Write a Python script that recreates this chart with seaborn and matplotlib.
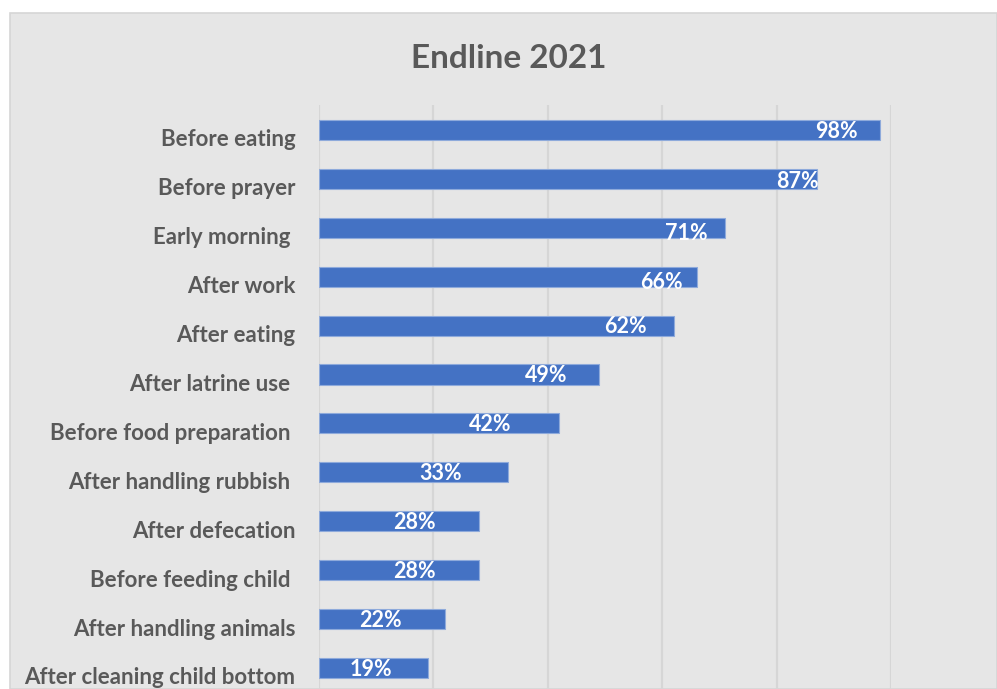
import matplotlib
matplotlib.use("Agg")
import matplotlib.pyplot as plt
import matplotlib.transforms as mtransforms
import seaborn as sns
import pandas as pd
from matplotlib.patches import Rectangle

categories = [
    "Before eating", "Before prayer", "Early morning ", "After work",
    "After eating", "After latrine use ", "Before food preparation ",
    "After handling rubbish ", "After defecation", "Before feeding child ",
    "After handling animals", "After cleaning child bottom",
]
values = [98, 87, 71, 66, 62, 49, 42, 33, 28, 28, 22, 19]
value_labels = ["98%", "87%", "71%", "66%", "62%", "49%", "42%", "33%", "28%", "28%", "22%", "19%"]

# label placement (styling): horizontal center in data units, vertical offset in points
label_x = [90.5, 83.7, 64.3, 59.9, 53.5, 39.7, 29.9, 21.3, 16.6, 16.6, 10.8, 9.1]
label_dy = [-1, -2, -4, -4, -1, -1, -1, -1, -1, -1, -1, -1]

sns.set_theme(style="white")
plt.rcParams['font.family'] = ['Lato', 'DejaVu Sans']

fig = plt.figure(figsize=(9.97, 6.89), dpi=100)
fig.patch.set_facecolor("white")
W, H = 997, 689
fig.add_artist(Rectangle((10 / W, 0), (W - 10) / W, (H - 13) / H, transform=fig.transFigure,
                         facecolor="#e6e6e6", edgecolor="#d6d6d6", lw=1.2, zorder=0))

ax = fig.add_axes([319 / W, 0, (891 - 319) / W, (H - 105) / H])
ax.set_facecolor("none")

df = pd.DataFrame({"cat": categories, "val": values})
sns.barplot(data=df, x="val", y="cat", orient="h", color="#4472C4", width=0.41,
            edgecolor="#8eaadb", linewidth=0.8, saturation=1, ax=ax, zorder=3)

ax.set_xlim(0, 100)
ax.set_ylim(11.43, -0.51)
ax.set_xticks([0, 20, 40, 60, 80, 100])
ax.set_xticklabels([])
ax.grid(axis="x", color="#d6d6d6", lw=1.6, zorder=0)
ax.set_axisbelow(True)
for s in ax.spines.values():
    s.set_visible(False)
ax.set_xlabel("")
ax.set_ylabel("")
ax.tick_params(axis="y", length=0, pad=17)
ax.tick_params(axis="x", length=0)
shift = mtransforms.ScaledTranslation(0, -8 / 100, fig.dpi_scale_trans)
for t in ax.get_yticklabels():
    t.set_fontweight("bold")
    t.set_fontsize(16)
    t.set_color("#595959")
    t.set_transform(t.get_transform() + shift)

for i, (lx, lab, dy) in enumerate(zip(label_x, value_labels, label_dy)):
    ax.annotate(lab, (lx, i), xytext=(0, dy), textcoords="offset points",
                ha="center", va="center", color="white", fontsize=15.5,
                fontweight="bold", zorder=5)

fig.text(509 / W, 1 - 59 / H, "Endline 2021", ha="center", va="center",
         fontsize=24, fontweight="bold", color="#595959")

fig.savefig("out.png", dpi=100)
